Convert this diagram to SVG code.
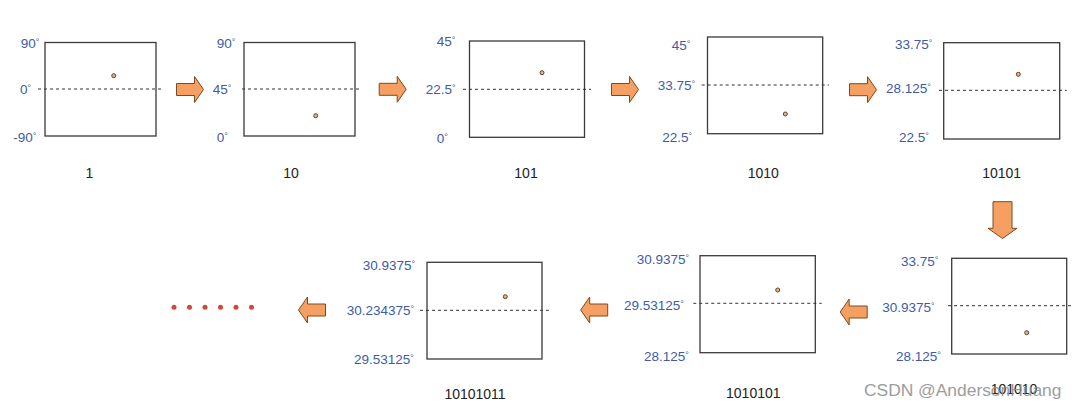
<svg xmlns="http://www.w3.org/2000/svg" width="1080" height="409" viewBox="0 0 1080 409">
<style>
.box{fill:#fff;stroke:#3a3a3a;stroke-width:1.3}
.mid{stroke:#333;stroke-width:1;stroke-dasharray:3 3;fill:none}
.pt{fill:#f0b07a;stroke:#5a4030;stroke-width:1}
.ax{font-family:"Liberation Sans",Arial,sans-serif;font-size:13.5px;fill:#3d5ca8}
.deg{font-size:9px}
.code{font-family:"Liberation Sans",Arial,sans-serif;font-size:14px;fill:#222;text-anchor:middle}
.arr{fill:#f5a062;stroke:#7a4a20;stroke-width:1}
.red{fill:#d2473a}
.wm{font-family:"Liberation Sans",Arial,sans-serif;font-size:17.4px;fill:#8c8c8c;opacity:0.85}
</style>
<defs>
<path id="ra" d="M-13.5,-6 H4.5 V-13 L13.5,0 L4.5,13 V6 H-13.5 Z"/>
</defs>
<rect width="1080" height="409" fill="#fff"/>

<g id="node-1">
<rect class="box" x="45" y="42.5" width="111" height="93.5"/>
<line class="mid" x1="38" y1="89" x2="163" y2="89"/>
<circle class="pt" cx="113.7" cy="75.7" r="2"/>
<text class="ax" x="20.7" y="47.5">90<tspan class="deg" dy="-3">°</tspan></text>
<text class="ax" x="20" y="94">0<tspan class="deg" dy="-3">°</tspan></text>
<text class="ax" x="13.3" y="142">-90<tspan class="deg" dy="-3">°</tspan></text>
<text class="code" x="89.3" y="177.7">1</text>
</g>

<g id="node-10">
<rect class="box" x="244" y="42.5" width="111" height="93.5"/>
<line class="mid" x1="242" y1="89" x2="362" y2="89"/>
<circle class="pt" cx="315.7" cy="115.7" r="2"/>
<text class="ax" x="216.7" y="47.5">90<tspan class="deg" dy="-3">°</tspan></text>
<text class="ax" x="212.7" y="94">45<tspan class="deg" dy="-3">°</tspan></text>
<text class="ax" x="216.7" y="142">0<tspan class="deg" dy="-3">°</tspan></text>
<text class="code" x="291" y="177.7">10</text>
</g>

<g id="node-101">
<rect class="box" x="469.5" y="41" width="115" height="96.3"/>
<line class="mid" x1="463" y1="89.3" x2="591" y2="89.3"/>
<circle class="pt" cx="542" cy="72.7" r="2"/>
<text class="ax" x="436.7" y="45.5">45<tspan class="deg" dy="-3">°</tspan></text>
<text class="ax" x="425.7" y="94.1">22.5<tspan class="deg" dy="-3">°</tspan></text>
<text class="ax" x="436.7" y="143.1">0<tspan class="deg" dy="-3">°</tspan></text>
<text class="code" x="526" y="177.7">101</text>
</g>

<g id="node-1010">
<rect class="box" x="707.5" y="37" width="115.2" height="96.7"/>
<line class="mid" x1="701.7" y1="85" x2="829" y2="85"/>
<circle class="pt" cx="785.3" cy="114" r="2"/>
<text class="ax" x="671.7" y="49.8">45<tspan class="deg" dy="-3">°</tspan></text>
<text class="ax" x="657.7" y="89.8">33.75<tspan class="deg" dy="-3">°</tspan></text>
<text class="ax" x="662.3" y="141.5">22.5<tspan class="deg" dy="-3">°</tspan></text>
<text class="code" x="763.3" y="177.7">1010</text>
</g>

<g id="node-10101">
<rect class="box" x="943.7" y="42.7" width="116" height="96.3"/>
<line class="mid" x1="939" y1="90.3" x2="1066.7" y2="90.3"/>
<circle class="pt" cx="1018.3" cy="74.3" r="2"/>
<text class="ax" x="895" y="48.8">33.75<tspan class="deg" dy="-3">°</tspan></text>
<text class="ax" x="886" y="92.8">28.125<tspan class="deg" dy="-3">°</tspan></text>
<text class="ax" x="899" y="142.1">22.5<tspan class="deg" dy="-3">°</tspan></text>
<text class="code" x="1001.7" y="177.7">10101</text>
</g>

<g id="node-101010">
<rect class="box" x="951.7" y="258.3" width="115" height="95.7"/>
<line class="mid" x1="948" y1="305.7" x2="1073" y2="305.7"/>
<circle class="pt" cx="1026.7" cy="332.7" r="2"/>
<text class="ax" x="901" y="265.5">33.75<tspan class="deg" dy="-3">°</tspan></text>
<text class="ax" x="882.3" y="312.1">30.9375<tspan class="deg" dy="-3">°</tspan></text>
<text class="ax" x="896" y="360.8">28.125<tspan class="deg" dy="-3">°</tspan></text>
<text class="code" x="1014" y="394.4">101010</text>
</g>

<g id="node-1010101">
<rect class="box" x="700" y="255.7" width="115.3" height="97"/>
<line class="mid" x1="693.3" y1="303.3" x2="821.7" y2="303.3"/>
<circle class="pt" cx="777.7" cy="290" r="2"/>
<text class="ax" x="636.7" y="264.1">30.9375<tspan class="deg" dy="-3">°</tspan></text>
<text class="ax" x="624" y="309.8">29.53125<tspan class="deg" dy="-3">°</tspan></text>
<text class="ax" x="644" y="360.8">28.125<tspan class="deg" dy="-3">°</tspan></text>
<text class="code" x="753.3" y="398.3">1010101</text>
</g>

<g id="node-10101011">
<rect class="box" x="427" y="262.3" width="115" height="96.7"/>
<line class="mid" x1="420" y1="310.3" x2="548.7" y2="310.3"/>
<circle class="pt" cx="505.3" cy="296.7" r="2"/>
<text class="ax" x="362.7" y="269.8">30.9375<tspan class="deg" dy="-3">°</tspan></text>
<text class="ax" x="346.7" y="314.8">30.234375<tspan class="deg" dy="-3">°</tspan></text>
<text class="ax" x="354" y="364.1">29.53125<tspan class="deg" dy="-3">°</tspan></text>
<text class="code" x="475" y="399">10101011</text>
</g>

<g id="ellipsis">
<circle class="red" cx="174" cy="307.3" r="2.5"/>
<circle class="red" cx="189.5" cy="307.3" r="2.5"/>
<circle class="red" cx="205" cy="307.3" r="2.5"/>
<circle class="red" cx="220.5" cy="307.3" r="2.5"/>
<circle class="red" cx="236" cy="307.3" r="2.5"/>
<circle class="red" cx="251.5" cy="307.3" r="2.5"/>
</g>

<g id="connectors">
<use href="#ra" class="arr" transform="translate(190,89.5)"/>
<use href="#ra" class="arr" transform="translate(392.7,89.3)"/>
<use href="#ra" class="arr" transform="translate(625,89.5)"/>
<use href="#ra" class="arr" transform="translate(863,89.7)"/>
<path class="arr" d="M993,201.7 H1012 V228.3 H1017 L1002.5,238.5 L988,228.3 H993 Z"/>
<use href="#ra" class="arr" transform="translate(853.7,312) rotate(180)"/>
<use href="#ra" class="arr" transform="translate(594.2,310) rotate(180)"/>
<use href="#ra" class="arr" transform="translate(312,310) rotate(180)"/>
</g>

<text class="wm" x="864" y="395.5">CSDN @AndersonHuang</text>
</svg>
